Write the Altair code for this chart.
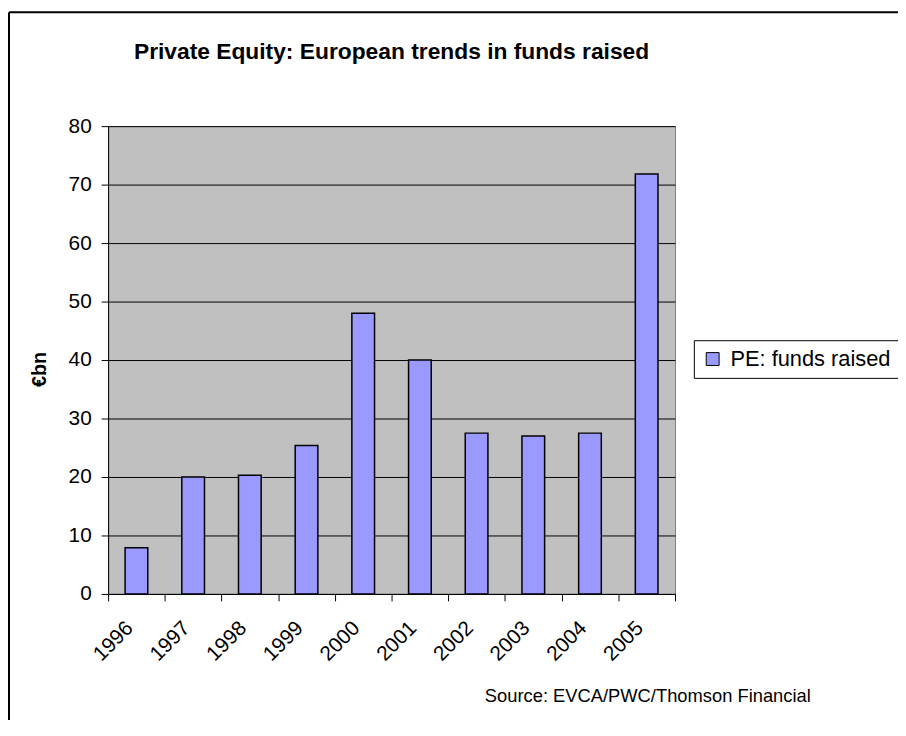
import altair as alt
import pandas as pd

# ---- data ----
YEARS = ["1996", "1997", "1998", "1999", "2000", "2001", "2002", "2003", "2004", "2005"]
FUNDS = [7.9, 20.0, 20.3, 25.4, 48.0, 40.0, 27.5, 27.0, 27.5, 71.8]
SERIES = "PE: funds raised"
Y_TICKS = [0, 10, 20, 30, 40, 50, 60, 70, 80]
TITLE = "Private Equity: European trends in funds raised"
SOURCE = "Source: EVCA/PWC/Thomson Financial"
Y_TITLE = "€bn"

FONT = "Liberation Sans"
BAR_COLOR = "#9999FF"

df = pd.DataFrame({"year": YEARS, "value": FUNDS, "series": [SERIES] * len(YEARS)})
title_df = pd.DataFrame({"label": [TITLE]})
source_df = pd.DataFrame({"label": [SOURCE]})
one_df = pd.DataFrame({"k": [0]})

x_enc = alt.X(
    "year:N",
    sort=YEARS,
    scale=alt.Scale(paddingInner=0, paddingOuter=0),
    axis=alt.Axis(
        title=None,
        labelAngle=315,
        labelAlign="right",
        labelBaseline="middle",
        labelOffset=-7,
        labelPadding=24,
        labelFont=FONT,
        labelFontSize=21,
        labelColor="black",
        labelOverlap=False,
        tickBand="extent",
        tickSize=7,
        tickColor="black",
        domainColor="black",
        grid=False,
    ),
)

y_enc = alt.Y(
    "value:Q",
    scale=alt.Scale(domain=[0, 80], nice=False),
    axis=alt.Axis(
        values=Y_TICKS,
        title=Y_TITLE,
        titleFont=FONT,
        titleFontSize=20,
        titleFontWeight="bold",
        titleColor="black",
        titleAngle=270,
        titleX=-69,
        titleY=245,
        titleAlign="center",
        titleBaseline="middle",
        grid=True,
        gridColor="black",
        gridOpacity=1,
        gridWidth=1,
        tickColor="black",
        tickSize=7,
        labelPadding=10,
        labelFont=FONT,
        labelFontSize=21,
        labelColor="black",
        labelBaseline="middle",
        domainColor="black",
    ),
)

bars = alt.Chart(df).mark_bar(
    width=alt.RelativeBandSize(0.4), stroke="black", strokeWidth=1.5
).encode(
    x=x_enc,
    y=y_enc,
    color=alt.Color(
        "series:N",
        title=None,
        scale=alt.Scale(range=[BAR_COLOR]),
        legend=alt.Legend(
            orient="none",
            legendX=591,
            legendY=216,
            strokeColor="black",
            fillColor="white",
            padding=8,
            cornerRadius=0,
            symbolType="square",
            symbolSize=169,
            symbolStrokeColor="black",
            symbolStrokeWidth=1,
            symbolOpacity=1,
            labelFont=FONT,
            labelFontSize=22,
            labelColor="black",
            labelOffset=7,
            labelLimit=400,
        ),
    ),
)

title_text = alt.Chart(title_df).mark_text(
    font=FONT, fontSize=23, fontWeight="bold", color="black",
    align="center", baseline="alphabetic",
).encode(x=alt.value(286), y=alt.value(-68), text="label:N")

source_text = alt.Chart(source_df).mark_text(
    font=FONT, fontSize=18.5, color="black", align="right", baseline="alphabetic",
).encode(x=alt.value(709), y=alt.value(581), text="label:N")

border_left = alt.Chart(one_df).mark_rule(color="black", strokeWidth=2).encode(
    x=alt.value(-100), y=alt.value(-115), y2=alt.value(600)
)
border_top = alt.Chart(one_df).mark_rule(color="black", strokeWidth=2).encode(
    x=alt.value(-100), x2=alt.value(800), y=alt.value(-115)
)

chart = alt.layer(bars, title_text, source_text, border_left, border_top).properties(
    width=572,
    height=472,
    autosize=alt.AutoSizeParams(type="none"),
    padding={"left": 101, "top": 116, "right": 225, "bottom": 124},
    background="white",
).configure_view(
    fill="#C0C0C0", stroke="#808080", strokeWidth=1
)

chart.save("out.html", embed_options={"renderer": "svg", "actions": False})
